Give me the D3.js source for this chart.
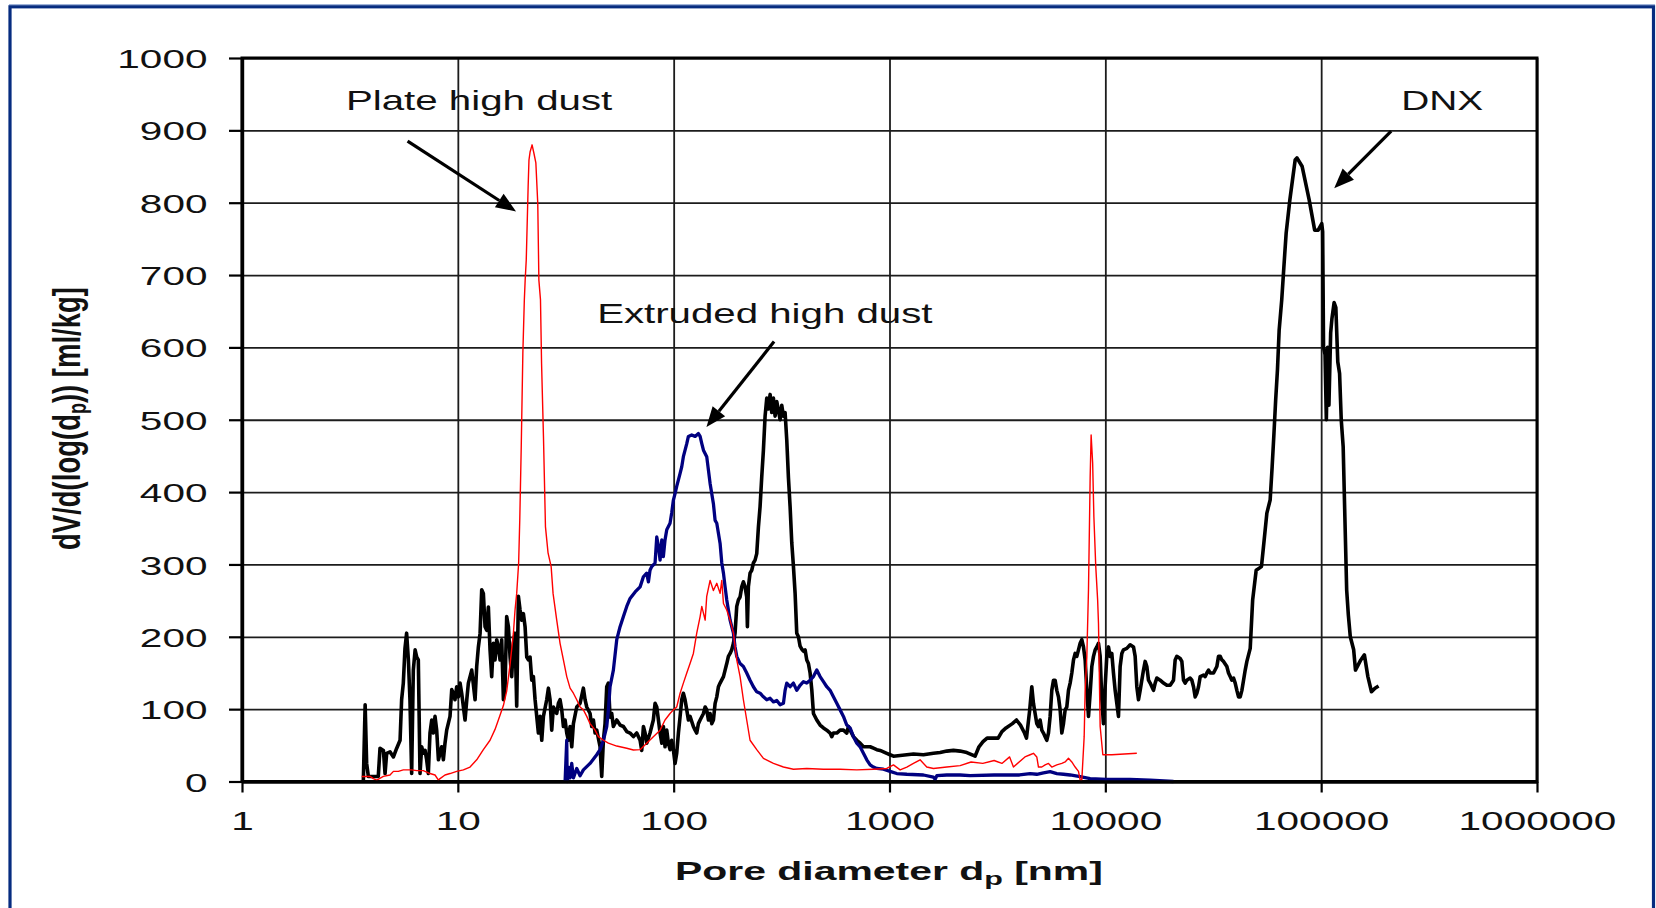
<!DOCTYPE html>
<html><head><meta charset="utf-8">
<script src="https://cdn.jsdelivr.net/npm/d3@7"></script>
<style>
html,body{margin:0;padding:0;background:#fff;overflow:hidden;}
svg{display:block;font-family:"Liberation Sans",Arial,sans-serif;}
</style></head><body>
<svg id="chart" width="1656" height="908"></svg>
<script>
// ---------------- data ----------------
const xTickValues = [1, 10, 100, 1000, 10000, 100000, 1000000];
const xTickLabels = ["1", "10", "100", "1000", "10000", "100000", "1000000"];
const yTickValues = [0, 100, 200, 300, 400, 500, 600, 700, 800, 900, 1000];
const yTickLabels = ["0", "100", "200", "300", "400", "500", "600", "700", "800", "900", "1000"];
const xTitle = "Pore diameter d";
const xTitleSub = "p";
const xTitleEnd = " [nm]";

// DNX (black)
const dnxDiameter = [3.65,3.72,3.78,3.85,4.28,4.36,4.52,4.60,4.68,4.85,5.03,5.21,5.40,5.49,5.59,5.69,5.79,5.90,6.00,6.11,6.22,6.34,6.45,6.56,6.68,6.80,6.92,7.05,7.17,7.30,7.43,7.57,7.70,7.84,7.98,8.13,8.27,8.42,8.57,8.72,8.88,9.20,9.37,9.53,9.70,9.88,10.06,10.24,10.42,10.80,11.00,11.19,11.60,12.02,12.23,12.45,12.68,12.90,13.13,13.37,13.61,13.85,14.10,14.35,14.61,14.87,15.14,15.41,15.69,15.97,16.26,16.55,16.84,17.15,17.46,17.77,18.09,18.41,18.74,19.08,19.42,19.77,20.13,20.49,20.86,21.23,21.61,22.00,22.39,22.80,23.62,24.05,24.48,24.92,25.81,26.28,26.75,27.23,27.72,28.72,29.24,29.76,30.30,30.84,31.40,31.96,32.53,33.12,33.71,34.31,35.55,36.84,38.17,38.86,39.56,40.99,41.72,42.47,43.24,44.01,45.60,46.42,47.25,48.10,48.96,49.84,50.73,51.64,52.56,54.48,56.45,58.50,60.62,62.81,65.09,67.45,69.89,71.13,72.42,73.72,75.04,
77.7,80.5,82.0,83.5,85.0,86.5,88.1,89.6,91.2,92.9,94.5,96.2,97.9,99.7,101.5,103.3,105.2,107.1,109.0,110.9,112.9,115.0,117.0,119.1,123.4,125.7,127.9,130.2,132.6,137.4,139.9,142.3,144.9,147.5,150.2,152.8,155.6,158.4,161.2,164.1,170.1,173.1,176.2,179.3,182.6,185.8,189.2,192.5,196.0,199.5,203.1,206.7,210.4,214.2,218.0,219.6,221.9,225.9,230.0,234.1,238.3,242.6,247.0,251.4,255.9,260.5,
265.2,270.0,274.8,279.8,284.8,289.9,295.1,300.4,311.3,316.8,322.5,328.3,334.2,340.2,346.3,352.5,358.9,365.3,371.8,378.5,385.3,392.2,399.3,406.4,413.7,421.1,428.7,436.4,444.2,460.3,476.9,494.2,512.0,530.6,540.1,549.8,569.8,590.4,611.8,633.9,645.3,656.9,680.7,705.3,730.8,757.3,784.7,813.2,842.6,873.0,904.6,937.3,971.4,1006,1043,1120,1203,1291,1436,1598,1716,1843,1978,2124,2281,2493,2597,2712,2832,3186,3318,3466,3710,3875,4044,4222,4312,4463,
4563,4645,4728,4813,4900,4987,5077,5168,5261,5355,5452,5549,5649,5751,5854,5959,6066,6175,6286,6398,6513,6630,6749,6870,6993,7119,7247,7377,7509,7644,7781,7921,8063,8208,8355,8505,8658,8813,8971,9132,9296,9463,9633,9801,9979,10158,10340,10525,10715,10907,11103,11302,11505,11711,11922,12136,12576,13031,13503,13746,13992,14244,14500,15024,15294,15569,15849,16133,16717,17017,17323,17949,18599,19272,19969,20691,21063,21442,22218,22617,23024,23438,23858,24722,25166,25618,26078,26546,27024,27509,28504,29016,29537,30068,30608,31715,32862,33452,34053,34665,35287,36564,37220,37889,38569,39262,39967,40685,41415,42159,42916,43687,44471,45270,46083,46910,
48150,49990,52880,53850,56030,58020,59270,60430,61540,62730,63880,65670,67170,68830,71610,75770,77250,81660,87990,93300,96850,100650,101600,102560,104230,105680,107150,108640,110660,112200,114820,116950,119400,121710,123880,126450,128770,131260,133660,136460,141450,144190,152600,158570,164600,171060,177560,184500];
const dnxValue = [2,106,25,7,7,46,43,11,39,41,34,46,57,113,136,184,205,168,113,11,154,182,172,168,11,48,39,43,30,11,67,85,67,90,71,30,39,48,30,53,71,90,127,122,113,131,117,136,122,85,113,136,154,113,159,186,205,265,260,214,209,241,182,145,191,168,196,186,168,196,113,131,228,214,172,145,191,205,104,256,237,223,232,214,172,168,172,140,145,113,67,90,57,90,113,129,113,71,103,94,108,113,99,76,85,67,57,76,48,80,103,108,129,113,103,94,76,85,67,71,48,7,57,80,131,136,89,94,76,85,78,76,69,67,62,67,57,43,76,67,53,
67,85,108,103,85,67,53,76,48,71,53,44,57,44,25,39,67,90,113,122,113,99,85,90,76,71,67,80,85,94,103,99,85,94,80,85,108,117,131,136,145,154,163,173,177,182,191,205,242,251,255,269,276,269,255,214,269,288,292,302,306,315,352,380,421,458,
505,530,515,535,510,530,505,525,500,520,505,510,472,420,380,330,297,260,205,200,187,183,180,182,168,163,150,127,94,85,78,74,71,67,62,67,67,71,71,67,76,71,62,57,53,48,48,48,46,44,43,41,39,37,35,36,37,38,37,39,40,42,43,42,40,35,48,55,60,60,69,74,80,85,78,67,60,99,
131,108,94,80,76,85,71,67,62,57,67,90,126,140,140,126,117,99,67,80,99,103,126,136,150,168,177,173,182,191,196,186,168,126,90,122,159,173,182,186,191,173,113,80,131,173,186,173,177,150,126,108,90,159,177,182,184,189,186,173,131,113,126,154,166,159,140,136,126,136,143,140,136,133,133,140,168,173,170,166,140,136,140,143,140,131,117,122,131,145,147,145,150,154,150,150,159,173,173,168,166,159,150,145,140,143,136,126,117,117,126,140,154,166,175,184,
251,292,297,320,371,389,435,481,527,569,624,666,711,758,804,859,862,850,804,762,762,771,760,600,590,500,600,520,620,640,662,655,580,564,500,463,366,265,230,200,182,154,168,175,145,124,129,132];

// Plate high dust (red)
const plateDiameter = [3.585,3.92,4.06,4.21,4.52,4.85,5.03,5.30,5.59,6.11,6.45,6.92,7.43,7.84,8.13,8.27,8.72,9.20,9.88,10.61,11.39,12.23,13.13,14.10,14.87,15.41,16.26,16.84,17.46,18.09,18.41,18.74,19.13,19.36,19.67,20.01,20.33,20.51,20.75,21.17,21.36,21.61,22.08,22.53,22.99,23.46,23.74,24.15,24.43,24.93,25.47,26.18,27.06,27.62,28.72,29.76,30.84,31.96,33.12,34.31,35.55,36.84,38.17,39.56,40.99,43.24,44.8,47.25,49.84,54.48,60.62,65.09,69.89,75.0,80.5,86.5,91.2,96.2,99.7,103.3,107.1,110.9,115.0,119.1,123.4,127.9,132.6,135.0,139.9,142.3,147.5,152.8,158.4,164.1,167.1,170.1,176.2,182.6,189.2,196.0,203.1,210.4,218.0,225.9,242.6,260.5,289.9,322.5,358.9,413.7,494.2,590.4,705.3,842.6,971.4,1043,1120,1203,1291,1386,1488,1598,1843,2124,2388,2706,3053,3318,3602,3752,4241,4482,4645,4813,4900,5077,5261,5452,5649,5959,6286,6513,6749,6993,7247,7509,7644,7781,7979,8063,8208,8355,8505,8594,8735,8850,9030,9211,9296,9463,9738,10715,13992];
const plateValue = [7,7,4,2,7,9,14,14,16,16,15,15,11,9,2,4,9,11,14,16,20,30,44,57,72,85,105,125,162,205,237,260,302,361,463,592,666,693,721,822,859,870,880,868,855,799,693,666,578,477,352,316,297,260,223,191,168,145,129,122,113,103,99,90,80,71,62,57,53,49,46,43.5,44,53,62,71,85,94,99,103,122,136,150,163,177,205,228,242,223,256,278,264,274,260,278,246,237,223,205,168,145,113,85,57,44,32,25,20,17,18,17,17,16,17,18,23,16,20,25,30,20,18,20,22,27,25,29,25,34,20,34,37,39,34,20,20,23,25,20,23,25,27,32,27,20,14,2,2,62,126,172,265,420,479,440,366,297,251,218,76,37,37,39];

// Extruded high dust (blue)
const extrudedDiameter = [31.40,31.96,32.10,32.53,33.12,33.71,34.31,35.55,36.84,38.17,40.99,44.01,45.60,47.25,48.96,49.84,50.73,52.56,54.48,56.45,58.50,60.62,62.81,66.3,69.9,72.4,75.0,76.4,77.7,79.1,82.0,83.5,85.0,86.5,88.1,89.6,91.2,92.9,96.2,97.9,99.7,101.5,103.3,105.2,107.1,109.0,110.9,115.0,117.0,121.2,125.7,130.2,132.6,135.0,137.4,142.3,147.5,152.8,155.6,158.4,164.1,167.1,170.1,173.1,176.2,179.3,182.6,185.8,189.2,192.5,196.0,203.1,210.4,218.0,225.9,234.1,242.6,251.4,260.5,270.0,279.8,289.9,300.4,311.3,322.5,328.3,334.2,346.3,358.9,371.8,385.3,399.3,413.7,428.7,444.2,460.3,476.9,494.2,512.0,530.6,549.8,569.8,590.4,611.8,633.9,656.9,680.7,705.3,730.8,757.3,784.7,813.2,842.6,873.0,937.3,1006,1080,1203,1436,1598,1627,1657,1843,2124,2363,3053,4000,4482,4813,5168,5549,5959,6398,6870,7644,8505,10158,13000,16133,20691];
const extrudedValue = [0,57,0,20,5,25,5,18,8,16,25,37,44,57,76,99,131,154,196,214,228,242,253,262,269,283,288,276,292,297,302,338,325,306,334,311,334,348,357,371,389,398,408,417,426,435,449,467,477,479,477,481,477,467,458,449,412,384,361,357,329,302,288,269,251,237,223,214,205,186,173,163,159,150,140,131,124,122,117,113,115,110,112,106,108,126,136,131,136,126,133,138,136,140,145,154,145,138,131,126,117,108,99,90,78,74,62,53,48,39,30,23,20,18,17,14,11,10,9,6,3,8,9,9,8,9,9,11,10,12,13.6,11,10,9,6.7,4,3,3,2,0];

// annotations (text anchor point and arrow in data units)
const annotations = [
  {label: "Plate high dust",    tx: 3.03,   ty: 928, width: 267, ax1: 5.85,   ay1: 885, ax2: 18.61,  ay2: 788},
  {label: "Extruded high dust", tx: 44.2,   ty: 634, width: 336, ax1: 291.9,  ay1: 608, ax2: 141.9,  ay2: 490},
  {label: "DNX",                tx: 234800, ty: 928, width: 82,  ax1: 211000, ay1: 899, ax2: 114900, ay2: 820}
];

const series = [
  {d: dnxDiameter, v: dnxValue, color: "#000000", width: 3.6},
  {d: extrudedDiameter, v: extrudedValue, color: "#000080", width: 3.3},
  {d: plateDiameter, v: plateValue, color: "#ff0000", width: 1.4}
];

// ---------------- layout ----------------
const svg = d3.select("#chart");
const L = 242, R = 1537, T = 58, B = 781.5;
const x = d3.scaleLog().domain([1, 1000000]).range([L, R]);
const y = d3.scaleLinear().domain([0, 1000]).range([B, T]);
const STRETCH = 1.53;

svg.append("rect").attr("width", 1656).attr("height", 908).attr("fill", "#fff");
// outer frame
svg.append("line").attr("x1", 9).attr("x2", 1655).attr("y1", 4.5).attr("y2", 4.5)
  .attr("stroke", "#9fb3d9").attr("stroke-width", 1);
svg.append("rect").attr("x", 10).attr("y", 6.8).attr("width", 1643.5).attr("height", 960)
  .attr("fill", "none").attr("stroke", "#062c80").attr("stroke-width", 3.2);

// gridlines
svg.append("g").attr("transform", `translate(${L},0)`)
  .call(d3.axisLeft(y).tickValues(yTickValues).tickSize(-(R - L)).tickFormat(""))
  .call(g => g.select(".domain").remove())
  .call(g => g.selectAll("line").attr("stroke", "#1c1c1c").attr("stroke-width", 1.8));
svg.append("g").attr("transform", `translate(0,${B})`)
  .call(d3.axisBottom(x).tickValues(xTickValues).tickSize(-(B - T)).tickFormat(""))
  .call(g => g.select(".domain").remove())
  .call(g => g.selectAll("line").attr("stroke", "#1c1c1c").attr("stroke-width", 1.8));

// plot frame
svg.append("rect").attr("x", L).attr("y", T).attr("width", R - L).attr("height", B - T)
  .attr("fill", "none").attr("stroke", "#000").attr("stroke-width", 3);

// series
const line = d3.line().x(p => x(p[0])).y(p => y(p[1]));
series.forEach(s => {
  const pts = s.d.map((d, i) => [d, s.v[i]]);
  svg.append("path").attr("d", line(pts)).attr("fill", "none")
    .attr("stroke", s.color).attr("stroke-width", s.width)
    .attr("stroke-linejoin", "round").attr("stroke-linecap", "butt");
});

// axes
const yAxis = svg.append("g").attr("transform", `translate(${L},0)`)
  .call(d3.axisLeft(y).tickValues(yTickValues).tickSize(13).tickSizeOuter(0).tickPadding(0)
    .tickFormat((d, i) => yTickLabels[i]));
yAxis.select(".domain").attr("stroke", "#000").attr("stroke-width", 3.4);
yAxis.selectAll(".tick line").attr("stroke", "#000").attr("stroke-width", 2.2);
yAxis.selectAll(".tick text")
  .attr("font-family", "Liberation Sans, Arial, sans-serif").attr("font-size", 26.5)
  .attr("fill", "#111").attr("text-anchor", "end")
  .attr("x", -34.5 / STRETCH).attr("dy", "0.36em")
  .attr("transform", `scale(${STRETCH},1)`);

const xAxis = svg.append("g").attr("transform", `translate(0,${B})`)
  .call(d3.axisBottom(x).tickValues(xTickValues).tickSize(11).tickSizeOuter(0)
    .tickFormat((d, i) => xTickLabels[i]));
xAxis.select(".domain").attr("stroke", "#000").attr("stroke-width", 3.4);
xAxis.selectAll(".tick line").attr("stroke", "#000").attr("stroke-width", 2.2);
xAxis.selectAll(".tick text")
  .attr("font-family", "Liberation Sans, Arial, sans-serif").attr("font-size", 26.5)
  .attr("fill", "#111").attr("text-anchor", "middle")
  .attr("y", 49).attr("dy", 0)
  .attr("transform", `scale(${STRETCH},1)`);

// fit helper: places text (anchor start) so its ink spans targetWidth from left
function fitText(g, text, left, baseline, targetWidth) {
  const bb = text.node().getBBox();
  const k = targetWidth / bb.width;
  g.attr("transform", `translate(${left - bb.x * k},${baseline}) scale(${k},1)`);
}

// x title
const xtG = svg.append("g");
const xt = xtG.append("text").attr("font-size", 25.5).attr("font-weight", "bold").attr("fill", "#111");
xt.append("tspan").text(xTitle);
xt.append("tspan").text(xTitleSub).attr("font-size", 19).attr("dy", 5);
xt.append("tspan").text(xTitleEnd).attr("dy", -5);
fitText(xtG, xt, 675, 880, 428);

// y title (rotated)
const ytG = svg.append("g");
const yt = ytG.append("text").attr("font-size", 26).attr("font-weight", "bold")
  .attr("fill", "#111").attr("text-anchor", "middle");
yt.append("tspan").text("dV/d(log(d");
yt.append("tspan").text("p").attr("font-size", 17).attr("dy", 4);
yt.append("tspan").text(")) [ml/kg]").attr("dy", -4);
{
  const bb = yt.node().getBBox();
  const k = 263 / bb.width;
  ytG.attr("transform", `translate(80,${418.5}) rotate(-90) scale(${k},1.5)`);
}

// annotations
annotations.forEach(a => {
  const g = svg.append("g");
  const t = g.append("text").attr("font-size", 27.5).attr("fill", "#111").text(a.label);
  fitText(g, t, x(a.tx), y(a.ty), a.width);

  const x1 = x(a.ax1), y1 = y(a.ay1), x2 = x(a.ax2), y2 = y(a.ay2);
  const ang = Math.atan2(y2 - y1, x2 - x1);
  const hl = 20, hw = 8;
  const bx = x2 - hl * Math.cos(ang), by = y2 - hl * Math.sin(ang);
  svg.append("line").attr("x1", x1).attr("y1", y1).attr("x2", bx).attr("y2", by)
    .attr("stroke", "#000").attr("stroke-width", 3.2);
  const px = -Math.sin(ang), py = Math.cos(ang);
  svg.append("path")
    .attr("d", `M${x2},${y2}L${bx + hw * px},${by + hw * py}L${bx - hw * px},${by - hw * py}Z`)
    .attr("fill", "#000");
});
</script>
</body></html>
